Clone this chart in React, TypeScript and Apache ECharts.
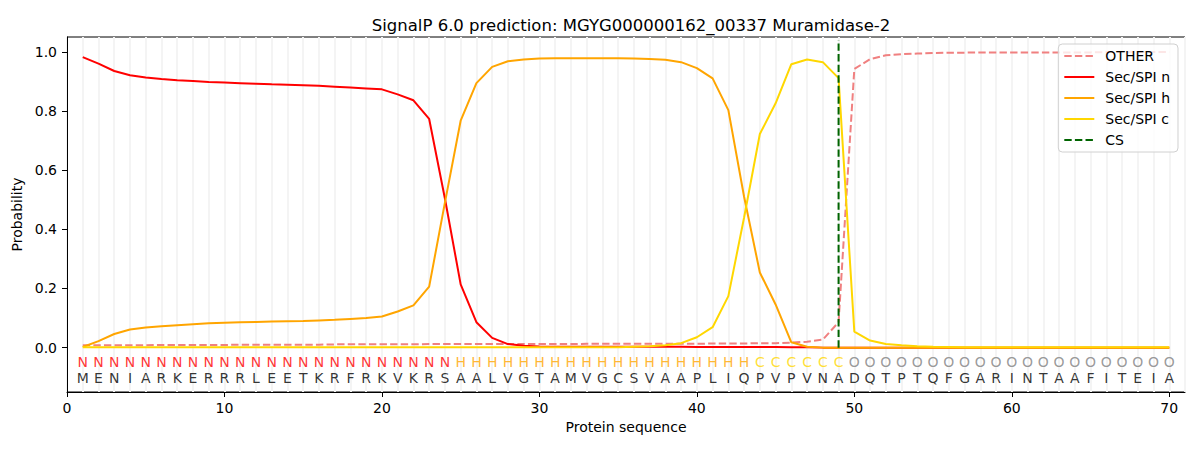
import { useEffect, useRef } from "react";
import * as echarts from "echarts";

const FONT = "DejaVu Sans";

// per-residue probabilities, positions 1..70
const otherProb = [
  0.008, 0.008, 0.008, 0.008, 0.008, 0.009, 0.009, 0.009, 0.009, 0.009,
  0.01, 0.01, 0.01, 0.01, 0.01, 0.01, 0.011, 0.011, 0.011, 0.011,
  0.011, 0.011, 0.012, 0.012, 0.012, 0.012, 0.012, 0.012, 0.012, 0.012,
  0.012, 0.012, 0.013, 0.013, 0.013, 0.013, 0.013, 0.013, 0.013, 0.013,
  0.014, 0.014, 0.014, 0.015, 0.015, 0.017, 0.02, 0.027, 0.086, 0.942,
  0.975, 0.988, 0.992, 0.994, 0.996, 0.997, 0.997, 0.998, 0.998, 0.998,
  0.998, 0.998, 0.998, 0.998, 0.998, 0.999, 0.999, 0.999, 0.999, 0.999,
];
const secN = [
  0.982, 0.96, 0.935, 0.921, 0.913, 0.908, 0.904, 0.901, 0.898, 0.896,
  0.894, 0.892, 0.89, 0.889, 0.887, 0.885, 0.882, 0.879, 0.876, 0.873,
  0.856, 0.836, 0.773, 0.504, 0.214, 0.086, 0.033, 0.012, 0.006, 0.004,
  0.003, 0.003, 0.003, 0.003, 0.003, 0.003, 0.003, 0.003, 0.003, 0.002,
  0.002, 0.002, 0.002, 0.002, 0.002, 0.001, 0.001, 0, 0, 0,
  0, 0, 0, 0, 0, 0, 0, 0, 0, 0,
  0, 0, 0, 0, 0, 0, 0, 0, 0, 0,
];
const secH = [
  0.002, 0.022, 0.046, 0.061, 0.068, 0.072, 0.076, 0.079, 0.082, 0.084,
  0.086, 0.087, 0.088, 0.089, 0.09, 0.092, 0.094, 0.097, 0.1, 0.105,
  0.122, 0.143, 0.206, 0.49, 0.767, 0.894, 0.949, 0.968, 0.974, 0.977,
  0.978, 0.978, 0.978, 0.978, 0.978, 0.977, 0.976, 0.973, 0.965, 0.945,
  0.91, 0.803, 0.51, 0.254, 0.146, 0.018, 0.003, 0, 0, 0,
  0, 0, 0, 0, 0, 0, 0, 0, 0, 0,
  0, 0, 0, 0, 0, 0, 0, 0, 0, 0,
];
const secC = [
  0.001, 0.001, 0.001, 0.001, 0.001, 0.001, 0.001, 0.001, 0.001, 0.001,
  0.001, 0.001, 0.001, 0.001, 0.001, 0.001, 0.001, 0.001, 0.001, 0.001,
  0.001, 0.001, 0.001, 0.001, 0.001, 0.001, 0.001, 0.001, 0.001, 0.001,
  0.001, 0.001, 0.001, 0.001, 0.001, 0.003, 0.005, 0.008, 0.015, 0.035,
  0.069, 0.174, 0.44, 0.722, 0.826, 0.958, 0.974, 0.965, 0.911, 0.054,
  0.024, 0.012, 0.008, 0.005, 0.003, 0.002, 0.001, 0.001, 0.001, 0.001,
  0.001, 0.001, 0.001, 0.001, 0.001, 0.001, 0.001, 0.001, 0.001, 0.001,
];

const regionLabels = "NNNNNNNNNNNNNNNNNNNNNNNNHHHHHHHHHHHHHHHHHHHCCCCCCOOOOOOOOOOOOOOOOOOOOO";
const sequence = "MENIARKERRRLEETKRFRKVKRSAALVGTAMVGCSVAAPLIQPVPVNADQTPTQFGARINTAAFITEIA";
const cleavageSite = 49;
const yTicks = [0, 0.2, 0.4, 0.6, 0.8, 1.0];

const labelColors: Record<string, string> = {
  N: "#ff0000",
  H: "#ffa500",
  C: "#ffd700",
  O: "#808080",
};

const dash = [7.4, 3.2];

function lineSeries(name: string, values: number[], color: string, dashed = false) {
  return {
    name,
    type: "line",
    symbol: "none",
    data: values.map((v, i) => [i + 1, v]),
    lineStyle: { color, width: 2, type: dashed ? dash : "solid" },
    itemStyle: { color },
  };
}

function textRow(letters: string, y: number, color: (ch: string) => string) {
  return {
    type: "scatter",
    silent: true,
    symbol: "circle",
    symbolSize: 1,
    itemStyle: { color: "rgba(0,0,0,0)" },
    data: letters.split("").map((ch, i) => ({
      value: [i + 1, y],
      label: { color: color(ch) },
      name: ch,
    })),
    label: {
      show: true,
      position: "inside",
      formatter: (p: any) => p.name,
      fontFamily: FONT,
      fontSize: 14,
    },
  };
}

function buildOption(): echarts.EChartsOption {
  return {
    animation: false,
    textStyle: { fontFamily: FONT },
    title: {
      text: "SignalP 6.0 prediction: MGYG000000162_00337 Muramidase-2",
      left: 626,
      top: 12,
      textAlign: "center",
      textStyle: { fontFamily: FONT, fontSize: 16.5, fontWeight: "normal", color: "#000" },
    },
    grid: {
      left: 67,
      top: 37,
      width: 1118,
      height: 355,
      show: true,
      borderColor: "#000",
      borderWidth: 1,
      backgroundColor: "transparent",
    },
    legend: {
      data: ["OTHER", "Sec/SPI n", "Sec/SPI h", "Sec/SPI c", "CS"],
      orient: "vertical",
      right: 22,
      top: 44,
      padding: [5, 8, 5, 5],
      itemWidth: 30,
      itemHeight: 14,
      itemGap: 7,
      itemStyle: { opacity: 0, borderWidth: 0 },
      backgroundColor: "rgba(255,255,255,0.8)",
      borderColor: "#d0d0d0",
      borderWidth: 1,
      borderRadius: 4,
      textStyle: { fontFamily: FONT, fontSize: 14, color: "#000", padding: [0, 0, 0, 6] },
    },
    xAxis: [
      {
        type: "value",
        min: 0,
        max: 71,
        interval: 10,
        name: "Protein sequence",
        nameLocation: "middle",
        nameGap: 28,
        nameTextStyle: { fontFamily: FONT, fontSize: 14, color: "#000" },
        axisLine: { show: true, onZero: false, lineStyle: { color: "#000" } },
        axisTick: { show: true, length: 5, lineStyle: { color: "#000" } },
        axisLabel: { fontFamily: FONT, fontSize: 14, color: "#000", margin: 9, showMaxLabel: false },
        splitLine: { show: false },
      },
      {
        type: "value",
        min: 0,
        max: 71,
        interval: 1,
        axisLine: { show: false },
        axisTick: { show: false },
        axisLabel: { show: false },
        splitLine: { show: true, lineStyle: { color: "#f4f4f4", width: 2 } },
      },
    ],
    yAxis: {
      type: "value",
      min: -0.15,
      max: 1.05,
      name: "Probability",
      nameLocation: "middle",
      nameGap: 38,
      nameTextStyle: { fontFamily: FONT, fontSize: 14, color: "#000" },
      axisLine: { show: true, onZero: false, lineStyle: { color: "#000" } },
      axisTick: { show: true, length: 5, customValues: yTicks, lineStyle: { color: "#000" } },
      axisLabel: {
        fontFamily: FONT,
        fontSize: 14,
        color: "#000",
        margin: 10,
        customValues: yTicks,
        formatter: (v: number) => v.toFixed(1),
      },
      splitLine: { show: false },
    },
    series: [
      lineSeries("OTHER", otherProb, "#f08080", true),
      lineSeries("Sec/SPI n", secN, "#ff0000"),
      lineSeries("Sec/SPI h", secH, "#ffa500"),
      lineSeries("Sec/SPI c", secC, "#ffd700"),
      {
        name: "CS",
        type: "line",
        symbol: "none",
        data: [
          [cleavageSite, 0],
          [cleavageSite, 1.04],
        ],
        lineStyle: { color: "#006400", width: 2, type: dash },
        itemStyle: { color: "#006400" },
      },
      textRow(regionLabels, -0.047, (ch) => labelColors[ch] ?? "#000"),
      textRow(sequence, -0.102, () => "#000"),
    ] as echarts.SeriesOption[],
  };
}

export default function App() {
  const ref = useRef<HTMLDivElement>(null);

  useEffect(() => {
    document.body.style.margin = "0";
    if (!ref.current) return;
    const chart = echarts.init(ref.current, undefined, { renderer: "svg" });
    chart.setOption(buildOption());
    return () => chart.dispose();
  }, []);

  return <div ref={ref} style={{ width: 1200, height: 450 }} />;
}
